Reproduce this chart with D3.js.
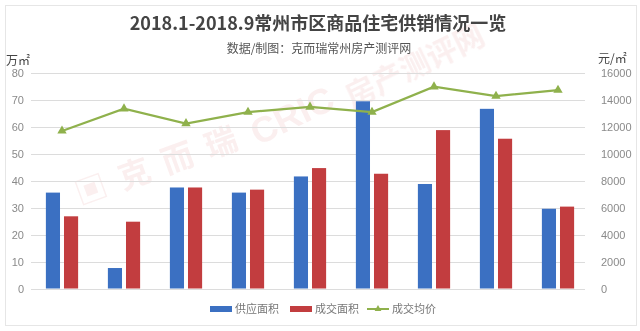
<!DOCTYPE html>
<html>
<head>
<meta charset="utf-8">
<script src="https://cdn.jsdelivr.net/npm/d3@7"></script>
<style>
  html, body { margin: 0; padding: 0; background: #fff; }
  svg { display: block; font-family: "Noto Sans CJK SC", "Noto Sans", sans-serif; }
</style>
</head>
<body>
<svg id="chart" width="640" height="331"></svg>
<script>
// Monthly supply / transaction figures, Changzhou urban districts, Jan–Sep 2018
const months = ["1月", "2月", "3月", "4月", "5月", "6月", "7月", "8月", "9月"];
const supplyArea = [35.6, 7.6, 37.5, 35.6, 41.6, 69.5, 38.8, 66.7, 29.6];   // 万㎡
const dealArea   = [26.8, 24.8, 37.5, 36.7, 44.7, 42.6, 58.8, 55.6, 30.4];  // 万㎡
const avgPrice   = [11700, 13350, 12250, 13100, 13480, 13100, 14980, 14280, 14730]; // 元/㎡
const leftTicks  = [0, 10, 20, 30, 40, 50, 60, 70, 80];
const rightTicks = [0, 2000, 4000, 6000, 8000, 10000, 12000, 14000, 16000];
const seriesNames = ["供应面积", "成交面积", "成交均价"];

const colors = { supply: "#3b70c2", deal: "#c23d3f", price: "#8fb14c" };

const svg = d3.select("#chart");
const W = 640, H = 331;
const plot = { left: 31, right: 589, top: 73, bottom: 288.5 };

// faint frame around the graphic
svg.append("rect")
  .attr("x", 5.5).attr("y", 5.5).attr("width", W - 9).attr("height", H - 11)
  .attr("fill", "#fff").attr("stroke", "#e6e6e6");

// watermark
const wm = svg.append("g").attr("fill", "#e39a9a").attr("opacity", 0.16)
  .attr("font-weight", "bold");
wm.append("text").attr("transform", "translate(258,146) rotate(-26)")
  .attr("font-size", 36).attr("font-family", "Arial, Liberation Sans, sans-serif")
  .text("CRIC");
wm.append("text").attr("transform", "translate(352,108) rotate(-26)")
  .attr("font-size", 30).text("房产测评网");
wm.append("text").attr("transform", "translate(80,206) rotate(-20)")
  .attr("font-size", 32).attr("letter-spacing", 14).text("▣克而瑞");

// scales
const x0 = d3.scaleBand().domain(months).range([plot.left, plot.right])
  .paddingInner(0.48).paddingOuter(0.24);
const x1 = d3.scaleBand().domain(["supply", "deal"]).range([0, x0.bandwidth()])
  .paddingInner(0.22);
const yL = d3.scaleLinear().domain([0, 80]).range([plot.bottom, plot.top]);
const yR = d3.scaleLinear().domain([0, 16000]).range([plot.bottom, plot.top]);

// gridlines
svg.append("g").selectAll("line").data(leftTicks).join("line")
  .attr("x1", plot.left).attr("x2", plot.right - 4)
  .attr("y1", d => Math.round(yL(d)) + 0.5).attr("y2", d => Math.round(yL(d)) + 0.5)
  .attr("stroke", "#dcdcdc").attr("stroke-width", 1);

// left axis
const leftAxis = svg.append("g").attr("transform", `translate(${plot.left - 5},0)`)
  .call(d3.axisLeft(yL).tickValues(leftTicks).tickSize(0).tickPadding(2));
leftAxis.select(".domain").remove();
leftAxis.selectAll("text").attr("fill", "#8a8a8a").attr("font-size", 11)
  .attr("font-family", "Liberation Sans, Arial, sans-serif");

// right axis
const rightAxis = svg.append("g").attr("transform", `translate(${plot.right + 10},0)`)
  .call(d3.axisRight(yR).tickValues(rightTicks).tickSize(0).tickPadding(2)
    .tickFormat(d3.format("d")));
rightAxis.select(".domain").remove();
rightAxis.selectAll("text").attr("fill", "#8a8a8a").attr("font-size", 11)
  .attr("font-family", "Liberation Sans, Arial, sans-serif");

// bars
const rows = months.map((m, i) => ({ m, supply: supplyArea[i], deal: dealArea[i] }));
const groups = svg.append("g").selectAll("g").data(rows).join("g")
  .attr("transform", d => `translate(${x0(d.m)},0)`);
groups.selectAll("rect")
  .data(d => [{ k: "supply", v: d.supply }, { k: "deal", v: d.deal }])
  .join("rect")
  .attr("x", d => x1(d.k)).attr("width", x1.bandwidth())
  .attr("y", d => yL(d.v)).attr("height", d => yL(0) - yL(d.v))
  .attr("fill", d => colors[d.k]);

// price line with triangle markers
const cx = m => x0(m) + x0.bandwidth() / 2;
const pts = months.map((m, i) => [cx(m), yR(avgPrice[i])]);
svg.append("path").datum(pts)
  .attr("d", d3.line())
  .attr("fill", "none").attr("stroke", colors.price).attr("stroke-width", 2.2);
const tri = d3.symbol().type(d3.symbolTriangle).size(38);
svg.append("g").selectAll("path").data(pts).join("path")
  .attr("d", tri).attr("transform", d => `translate(${d[0]},${d[1]})`)
  .attr("fill", colors.price);

// titles
svg.append("text").attr("x", 318).attr("y", 30).attr("text-anchor", "middle")
  .attr("font-size", 18).attr("font-weight", "bold").attr("fill", "#444")
  .text("2018.1-2018.9常州市区商品住宅供销情况一览");
svg.append("text").attr("x", 319).attr("y", 53).attr("text-anchor", "middle")
  .attr("font-size", 12).attr("fill", "#555")
  .text("数据/制图：克而瑞常州房产测评网");

// axis unit labels
svg.append("text").attr("x", 6).attr("y", 65).attr("font-size", 12)
  .attr("fill", "#444").text("万㎡");
svg.append("text").attr("x", 598).attr("y", 63).attr("font-size", 12)
  .attr("fill", "#444").text("元/㎡");

// legend
const lg = svg.append("g").attr("font-size", 11).attr("fill", "#777");
const legendItems = [
  { name: seriesNames[0], type: "bar", color: colors.supply, x: 210 },
  { name: seriesNames[1], type: "bar", color: colors.deal, x: 290 },
  { name: seriesNames[2], type: "line", color: colors.price, x: 367 }
];
const ly = 309;
legendItems.forEach(it => {
  if (it.type === "bar") {
    lg.append("rect").attr("x", it.x).attr("y", ly - 3).attr("width", 22).attr("height", 6)
      .attr("fill", it.color);
  } else {
    lg.append("line").attr("x1", it.x).attr("x2", it.x + 22).attr("y1", ly).attr("y2", ly)
      .attr("stroke", it.color).attr("stroke-width", 2);
    lg.append("path").attr("d", d3.symbol().type(d3.symbolTriangle).size(20))
      .attr("transform", `translate(${it.x + 11},${ly})`).attr("fill", it.color);
  }
  lg.append("text").attr("x", it.x + 25).attr("y", ly + 4).text(it.name);
});
</script>
</body>
</html>
